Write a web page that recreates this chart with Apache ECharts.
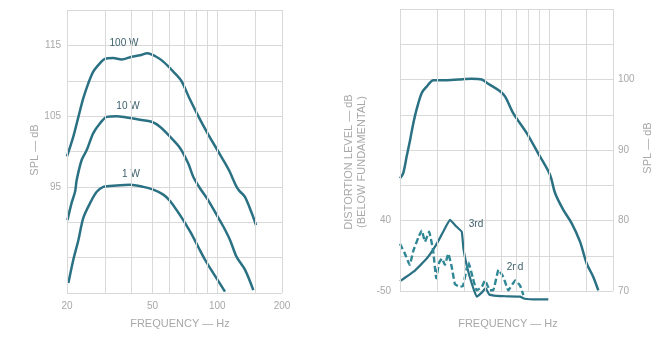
<!DOCTYPE html>
<html>
<head>
<meta charset="utf-8">
<script src="https://cdn.jsdelivr.net/npm/echarts@6/dist/echarts.min.js"></script>
<style>
  html, body { margin: 0; padding: 0; background: #ffffff; }
  #chart { width: 663px; height: 350px; }
</style>
</head>
<body>
<div id="chart"></div>
<script>
// ---- Left panel: SPL versus frequency at three drive levels ----
const freq100W = [20.0, 21.4, 22.6, 23.8, 25.1, 26.5, 28.5, 30.0, 32.8, 35.9, 40.0, 43.7, 47.3, 51.3, 56.1, 62.4, 68.0, 74.0, 81.6, 90.0, 101.0, 108.0, 114.0, 118.7, 123.0, 127.0, 134.5, 144.6, 151.4];
const spl100W  = [99.3, 102.1, 104.9, 107.5, 109.6, 111.3, 112.5, 113.1, 113.2, 113.0, 113.4, 113.6, 113.9, 113.5, 112.7, 111.3, 110.0, 107.6, 105.0, 102.6, 100.0, 98.5, 97.2, 96.0, 95.0, 94.4, 93.6, 91.3, 89.6];

const freq10W = [20.1, 21.0, 21.8, 22.2, 23.4, 24.7, 26.5, 28.5, 30.6, 34.0, 37.9, 43.7, 49.5, 54.1, 60.3, 67.1, 73.3, 77.4, 83.1, 90.8, 99.5, 106.7, 114.6, 123.0, 134.5, 147.1];
const spl10W  = [90.3, 92.7, 94.3, 96.0, 98.8, 100.2, 102.6, 104.0, 104.9, 105.0, 104.8, 104.5, 104.2, 103.5, 102.1, 100.5, 98.3, 96.4, 94.8, 93.1, 91.0, 89.4, 87.5, 85.1, 83.3, 80.4];

const freq1W = [20.3, 21.4, 22.6, 23.8, 25.6, 27.5, 29.5, 34.0, 39.3, 45.3, 50.4, 56.1, 60.3, 67.1, 74.7, 81.6, 87.7, 95.8, 108.6];
const spl1W  = [81.4, 84.7, 87.5, 90.6, 92.7, 94.3, 95.0, 95.2, 95.3, 95.0, 94.6, 93.9, 93.0, 91.0, 88.7, 86.5, 84.7, 82.8, 80.2];

// ---- Right panel: SPL and harmonic distortion ----
const freqSpl = [20.0, 20.7, 21.5, 22.3, 23.1, 24.0, 25.3, 26.7, 28.7, 32.5, 37.6, 43.4, 48.4, 51.9, 57.9, 62.2, 68.1, 78.7, 89.2, 101.2, 106.9, 116.9, 128.0, 140.0, 150.5, 161.6, 170.6];
const splRight = [86.0, 86.7, 89.1, 91.4, 93.8, 95.9, 98.1, 99.0, 99.9, 99.9, 100.0, 100.1, 100.0, 99.4, 98.5, 97.6, 95.2, 92.4, 89.5, 86.5, 83.9, 81.5, 79.6, 77.0, 73.9, 72.0, 70.1];

const freq3rd = [20.0, 23.5, 26.7, 29.5, 31.9, 34.3, 36.9, 39.0, 39.7, 41.1, 43.4, 45.8, 48.5, 50.5, 52.5, 56.9, 63.4, 73.2, 77.0, 87.7, 99.4];
const dist3rd = [-48.6, -47.1, -45.4, -43.5, -41.6, -39.9, -40.9, -41.6, -44.0, -46.3, -48.9, -50.8, -50.2, -49.6, -50.5, -50.7, -50.75, -50.8, -51.1, -51.2, -51.2];

const freq2nd = [20.0, 21.1, 22.2, 23.1, 24.4, 25.3, 26.2, 27.4, 28.6, 29.6, 30.5, 31.5, 32.5, 33.7, 35.0, 36.2, 38.0, 39.5, 41.9, 44.0, 45.8, 48.5, 50.1, 52.9, 54.8, 58.0, 61.1, 64.5, 69.5, 73.2, 75.9];
const dist2nd = [-43.3, -44.7, -46.3, -44.3, -42.4, -41.4, -43.0, -41.6, -44.2, -48.2, -46.0, -45.4, -46.3, -44.7, -46.6, -49.0, -49.4, -49.3, -45.9, -48.2, -49.9, -49.4, -48.5, -49.9, -49.9, -47.0, -48.0, -49.9, -48.5, -49.2, -50.6];

// ---- Axes: grid frequencies and tick labels ----
const gridFreqs = [20, 30, 40, 50, 60, 70, 80, 90, 100, 150, 200];
const leftFreqTicks = [20, 50, 100, 200];
const rightFreqTicks = [20, 30, 40, 50, 100, 200];
const leftSplTicks = [95, 105, 115];
const rightSplTicks = [70, 80, 90, 100];
const distTicks = [-40, -50];
const distTickText = ['40', '-50'];

const GRID = '#d9d9d9';
const TXT = '#a8a8a8';
const INK = '#2b7184';
const NOTE = '#3d5f6b';
const FONT = 'Liberation Sans';

const zip = (xs, ys) => xs.map((x, i) => [x, ys[i]]);

function curve(name, xs, ys, xi, yi, extra) {
  return Object.assign({
    name, type: 'line', xAxisIndex: xi, yAxisIndex: yi,
    data: zip(xs, ys), showSymbol: false, smooth: 0.3, z: 3,
    lineStyle: { color: INK, width: 2.5 }
  }, extra || {});
}

function gridLines(xi, yi) {
  return {
    type: 'line', xAxisIndex: xi, yAxisIndex: yi, data: [], z: 1, silent: true,
    markLine: {
      silent: true, symbol: ['none', 'none'], animation: false,
      label: { show: false },
      lineStyle: { color: GRID, width: 1, type: 'solid' },
      data: gridFreqs.map(f => ({ xAxis: f }))
    }
  };
}

const chart = echarts.init(document.getElementById('chart'), null, { renderer: 'canvas' });

const hiddenLogX = (gi) => ({
  gridIndex: gi, type: 'log', logBase: 10, min: 20, max: 200,
  axisLine: { show: false }, axisTick: { show: false },
  axisLabel: { show: false }, splitLine: { show: false }
});

chart.setOption({
  animation: false,
  textStyle: { fontFamily: FONT },
  grid: [
    { left: 67, top: 10, width: 215, height: 283 },
    { left: 400, top: 9, width: 213, height: 282 }
  ],
  xAxis: [hiddenLogX(0), hiddenLogX(1)],
  yAxis: [
    {
      gridIndex: 0, type: 'value', min: 80, max: 120, interval: 5,
      axisLine: { show: false }, axisTick: { show: false },
      splitLine: { lineStyle: { color: GRID, width: 1 } },
      axisLabel: { color: TXT, fontSize: 10, margin: 6, fontFamily: FONT,
        formatter: v => leftSplTicks.includes(v) ? String(v) : '' }
    },
    {
      gridIndex: 1, type: 'value', position: 'left', min: -50, max: -10, interval: 5,
      axisLine: { show: false }, axisTick: { show: false }, splitLine: { show: false },
      axisLabel: { color: TXT, fontSize: 10, margin: 9, fontFamily: FONT,
        formatter: v => { const k = distTicks.indexOf(v); return k >= 0 ? distTickText[k] : ''; } }
    },
    {
      gridIndex: 1, type: 'value', position: 'right', min: 70, max: 110, interval: 5,
      axisLine: { show: false }, axisTick: { show: false },
      splitLine: { lineStyle: { color: GRID, width: 1 } },
      axisLabel: { color: TXT, fontSize: 10, margin: 5, fontFamily: FONT,
        formatter: v => rightSplTicks.includes(v) ? String(v) : '' }
    }
  ],
  series: [
    gridLines(0, 0),
    curve('100 W', freq100W, spl100W, 0, 0),
    curve('10 W', freq10W, spl10W, 0, 0),
    curve('1 W', freq1W, spl1W, 0, 0),
    gridLines(1, 2),
    curve('SPL', freqSpl, splRight, 1, 2),
    curve('3rd', freq3rd, dist3rd, 1, 1, { smooth: 0.1, clip: false, lineStyle: { color: INK, width: 2.2 } }),
    curve('2nd', freq2nd, dist2nd, 1, 1, { smooth: 0.1, clip: false,
      lineStyle: { color: '#2f8796', width: 2.4, type: [6, 3] } })
  ]
});

// Frequency tick labels placed through the log axes
const graphics = [];
function freqLabels(gi, ticks, yBase, offset) {
  ticks.forEach(f => {
    const p = chart.convertToPixel({ gridIndex: gi }, [f, yBase]);
    graphics.push({
      type: 'text', x: p[0], y: p[1] + offset, silent: true,
      style: { text: String(f), fill: TXT, font: '10px ' + FONT, textAlign: 'center', textVerticalAlign: 'middle' }
    });
  });
}
freqLabels(0, leftFreqTicks, 80, 13);
freqLabels(1, rightFreqTicks, 70, 13);

function text(str, x, y, opts) {
  const o = opts || {};
  graphics.push({
    type: 'text', x, y, rotation: o.rot || 0, silent: true,
    style: { text: str, fill: o.color || TXT, font: (o.size || 11) + 'px ' + FONT,
      textAlign: 'center', textVerticalAlign: 'middle' }
  });
}

// Axis titles
text('FREQUENCY — Hz', 180, 324);
text('FREQUENCY — Hz', 508, 324);
text('SPL — dB', 35, 150, { rot: Math.PI / 2 });
text('SPL — dB', 648, 148, { rot: Math.PI / 2 });
text('DISTORTION LEVEL — dB', 349, 162, { rot: Math.PI / 2 });
text('(BELOW FUNDAMENTAL)', 362, 162, { rot: Math.PI / 2 });

// Curve annotations
text('100 W', 124, 43, { color: NOTE, size: 10 });
text('10 W', 128, 106, { color: NOTE, size: 10 });
text('1 W', 131, 174, { color: NOTE, size: 10 });
text('3rd', 476, 224, { color: NOTE, size: 10 });
text('2nd', 515, 267, { color: NOTE, size: 10 });

chart.setOption({ graphic: graphics });
</script>
</body>
</html>
